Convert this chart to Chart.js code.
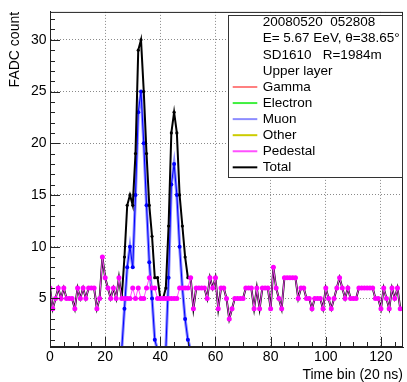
<!DOCTYPE html>
<html>
<head>
<meta charset="utf-8">
<script src="https://cdn.jsdelivr.net/npm/chart.js@4.4.1/dist/chart.umd.min.js"></script>
<style>
  html, body { margin: 0; padding: 0; background: #fff; }
  #wrap { width: 407px; height: 382px; }
</style>
</head>
<body>
<div id="wrap"><canvas id="fadc"></canvas></div>
<script>
// FADC trace of one SD station, upper layer, split by particle type
const timeBin = Array.from({ length: 128 }, (_, i) => i);
const xTicks = [0, 20, 40, 60, 80, 100, 120];
const yTicks = [5, 10, 15, 20, 25, 30];
const eventInfo = ['20080520  052808', 'E= 5.67 EeV, \u03b8=38.65\u00b0', 'SD1610   R=1984m', 'Upper layer'];

const gamma = [
  0, 0, 0, 0, 0, 0, 0, 0, 0, 0, 0, 0, 0, 0, 0, 0, 0, 0, 0, 0, 0, 0, 0, 0, 0, 0, 0, 0, 0, 0, 0, 0,
  0, 0, 0, 0, 0, 0, 0, 0, 0, 0, 0, 0, 0, 0, 0, 0, 0, 0, 0, 0, 0, 0, 0, 0, 0, 0, 0, 0, 0, 0, 0, 0,
  0, 0, 0, 0, 0, 0, 0, 0, 0, 0, 0, 0, 0, 0, 0, 0, 0, 0, 0, 0, 0, 0, 0, 0, 0, 0, 0, 0, 0, 0, 0, 0,
  0, 0, 0, 0, 0, 0, 0, 0, 0, 0, 0, 0, 0, 0, 0, 0, 0, 0, 0, 0, 0, 0, 0, 0, 0, 0, 0, 0, 0, 0, 0, 0
];
const electron = [
  0, 0, 0, 0, 0, 0, 0, 0, 0, 0, 0, 0, 0, 0, 0, 0, 0, 0, 0, 0, 0, 0, 0, 0, 0, 0, 0, 0, 0, 0, 0, 0,
  0, 0, 0, 0, 0, 0, 0, 0, 0, 0, 0, 0, 0, 0, 0, 0, 0, 0, 0, 0, 0, 0, 0, 0, 0, 0, 0, 0, 0, 0, 0, 0,
  0, 0, 0, 0, 0, 0, 0, 0, 0, 0, 0, 0, 0, 0, 0, 0, 0, 0, 0, 0, 0, 0, 0, 0, 0, 0, 0, 0, 0, 0, 0, 0,
  0, 0, 0, 0, 0, 0, 0, 0, 0, 0, 0, 0, 0, 0, 0, 0, 0, 0, 0, 0, 0, 0, 0, 0, 0, 0, 0, 0, 0, 0, 0, 0
];
const muon = [
  0, 0, 0, 0, 0, 0, 0, 0, 0, 0, 0, 0, 0, 0, 0, 0, 0, 0, 0, 0, 0, 0, 0, 0, 0, 0, 0, 4, 8, 10, 8, 15,
  23, 25, 20, 14, 8.5, 5, 1, 0, 0, 0, 0, 7, 16, 18, 15, 10, 6, 3, 1, 0, 0, 0, 0, 0, 0, 0, 0, 0, 0, 0, 0, 0,
  0, 0, 0, 0, 0, 0, 0, 0, 0, 0, 0, 0, 0, 0, 0, 0, 0, 0, 0, 0, 0, 0, 0, 0, 0, 0, 0, 0, 0, 0, 0, 0,
  0, 0, 0, 0, 0, 0, 0, 0, 0, 0, 0, 0, 0, 0, 0, 0, 0, 0, 0, 0, 0, 0, 0, 0, 0, 0, 0, 0, 0, 0, 0, 0
];
const other = [
  0, 0, 0, 0, 0, 0, 0, 0, 0, 0, 0, 0, 0, 0, 0, 0, 0, 0, 0, 0, 0, 0, 0, 0, 0, 0, 0, 0, 0, 0, 0, 0,
  0, 0, 0, 0, 0, 0, 0, 0, 0, 0, 0, 0, 0, 0, 0, 0, 0, 0, 0, 0, 0, 0, 0, 0, 0, 0, 0, 0, 0, 0, 0, 0,
  0, 0, 0, 0, 0, 0, 0, 0, 0, 0, 0, 0, 0, 0, 0, 0, 0, 0, 0, 0, 0, 0, 0, 0, 0, 0, 0, 0, 0, 0, 0, 0,
  0, 0, 0, 0, 0, 0, 0, 0, 0, 0, 0, 0, 0, 0, 0, 0, 0, 0, 0, 0, 0, 0, 0, 0, 0, 0, 0, 0, 0, 0, 0, 0
];
const pedestal = [
  6, 4, 5, 6, 5, 6, 5, 5, 5, 4, 6, 5, 6, 5, 6, 6, 6, 4, 5, 9, 7, 6, 5, 6, 5, 7, 5, 5, 5, 5, 6, 5,
  6, 5, 5, 6, 7, 6, 6, 5, 5, 5, 5, 5, 5, 5, 5, 6, 6, 6, 6, 7, 4, 6, 6, 6, 6, 5, 7, 6, 7, 4, 6, 6,
  5, 3, 4, 5, 5, 5, 5, 6, 6, 6, 4, 6, 4, 6, 6, 6, 4, 8, 6, 5, 4, 7, 7, 7, 7, 7, 5, 6, 6, 5, 5, 4,
  5, 5, 5, 4, 6, 5, 4, 5, 6, 7, 6, 5, 6, 5, 5, 5, 6, 6, 6, 6, 6, 6, 5, 5, 4, 6, 5, 4, 6, 5, 6, 4
];
const total = [
  6, 4, 5, 6, 5, 6, 5, 5, 5, 4, 6, 5, 6, 5, 6, 6, 6, 4, 5, 9, 7, 6, 5, 6, 5, 7, 5, 9, 14, 15, 14, 19,
  29, 30, 25, 19, 14, 11, 7, 7, 5, 5, 6, 12, 21, 23, 21, 15, 12, 9, 7, 7, 4, 6, 6, 6, 6, 5, 7, 6, 7, 4, 6, 6,
  5, 3, 4, 5, 5, 5, 5, 6, 6, 6, 4, 6, 4, 6, 6, 6, 4, 8, 6, 5, 4, 7, 7, 7, 7, 7, 5, 6, 6, 5, 5, 4,
  5, 5, 5, 4, 6, 5, 4, 5, 6, 7, 6, 5, 6, 5, 5, 5, 6, 6, 6, 6, 6, 6, 5, 5, 4, 6, 5, 4, 6, 5, 6, 4
];

const FONT = '"Liberation Sans", Arial, Helvetica, sans-serif';
Chart.defaults.font.family = FONT;
Chart.defaults.color = '#000';

function trace(label, data, color, extra) {
  return Object.assign({
    label: label,
    data: data,
    borderColor: color,
    backgroundColor: color,
    borderWidth: 1,
    pointRadius: 0,
    pointBorderWidth: 0,
    tension: 0,
    fill: false
  }, extra);
}

const datasets = [
  trace('Gamma', gamma, '#ff8080', { borderWidth: 2, order: 9 }),
  trace('Electron', electron, '#40f040', { borderWidth: 2, order: 8 }),
  trace('Muon', muon, '#8c8cff', { borderWidth: 3, order: 7 }),
  trace('', muon, '#0000ff', { borderWidth: 1, pointRadius: 2, order: 6 }),
  trace('Other', other, '#cccc00', { borderWidth: 2, order: 5 }),
  trace('Total', total, '#000000', { borderWidth: 2, pointRadius: 1.6, order: 4 }),
  trace('Pedestal', pedestal, '#ff50ff', { borderWidth: 1, pointRadius: 2.5, pointBackgroundColor: '#ff00ff', order: 3 })
];
const legendOrder = ['Gamma', 'Electron', 'Muon', 'Other', 'Pedestal', 'Total'];

// ROOT-like frame: inward ticks, closed box and the info legend on top
const rootFrame = {
  id: 'rootFrame',
  afterDraw(chart) {
    const { ctx, chartArea: a, scales: { x, y } } = chart;
    ctx.save();
    ctx.strokeStyle = '#222';
    ctx.lineWidth = 1;
    ctx.beginPath();
    for (let v = 1; v <= 32; v++) {
      const py = Math.round(y.getPixelForValue(v)) + 0.5;
      const len = v % 5 === 0 ? 10 : 5;
      ctx.moveTo(a.left, py);
      ctx.lineTo(a.left + len, py);
    }
    for (let v = 5; v < 128; v += 5) {
      const px = Math.round(x.getPixelForValue(v)) + 0.5;
      const len = v % 20 === 0 ? 10 : 5;
      ctx.moveTo(px, a.bottom);
      ctx.lineTo(px, a.bottom - len);
    }
    ctx.stroke();
    ctx.strokeRect(a.left + 0.5, a.top + 0.5, a.right - a.left - 1, a.bottom - a.top - 1);

    // legend box
    const box = { left: 228.5, top: 15.5, right: 402.5, bottom: 177.5 };
    const rowH = 16.07, firstRow = 22.7, textX = 262.7;
    ctx.fillStyle = '#fff';
    ctx.fillRect(box.left, box.top, box.right - box.left, box.bottom - box.top);
    ctx.strokeStyle = '#333';
    ctx.strokeRect(box.left, box.top, box.right - box.left, box.bottom - box.top);
    ctx.font = '13.5px ' + FONT;
    ctx.fillStyle = '#000';
    ctx.textBaseline = 'middle';
    ctx.textAlign = 'left';
    eventInfo.forEach((t, i) => ctx.fillText(t, textX, firstRow + i * rowH));
    legendOrder.forEach((name, i) => {
      const ds = chart.data.datasets.find(d => d.label === name);
      const ry = firstRow + (eventInfo.length + i) * rowH;
      ctx.strokeStyle = ds.borderColor;
      ctx.lineWidth = 2;
      ctx.beginPath();
      ctx.moveTo(232.7, ry);
      ctx.lineTo(257.3, ry);
      ctx.stroke();
      ctx.fillText(name, textX, ry);
    });
    ctx.restore();
  }
};

new Chart(document.getElementById('fadc'), {
  type: 'line',
  data: { labels: timeBin, datasets: datasets },
  options: {
    responsive: true,
    maintainAspectRatio: false,
    animation: false,
    events: [],
    layout: { padding: { top: 6, right: 1, left: 0, bottom: 0 } },
    plugins: { legend: { display: false }, tooltip: { enabled: false } },
    scales: {
      x: {
        type: 'linear',
        min: 0,
        max: 128,
        afterBuildTicks: s => { s.ticks = xTicks.map(v => ({ value: v })); },
        afterFit: s => { s.height = 35; },
        grid: { color: '#8a8a8a', lineWidth: 1, drawTicks: false },
        border: { color: '#222', dash: [1, 2] },
        ticks: { padding: 2, maxRotation: 0, font: { size: 14 }, color: '#000' },
        title: {
          display: true, text: 'Time bin (20 ns)', align: 'end', color: '#000',
          font: { size: 14, lineHeight: 1 }, padding: { top: 0, bottom: 0 }
        }
      },
      y: {
        type: 'linear',
        min: 0.3,
        max: 32.7,
        afterBuildTicks: s => { s.ticks = yTicks.map(v => ({ value: v })); },
        afterFit: s => { s.width = 50; },
        grid: { color: '#8a8a8a', lineWidth: 1, drawTicks: false },
        border: { color: '#222', dash: [1, 2] },
        ticks: { padding: 3.5, font: { size: 14 }, color: '#000' },
        title: {
          display: true, text: 'FADC count', align: 'end', color: '#000',
          font: { size: 14, lineHeight: 1 }, padding: { top: 8.6, bottom: 0 }
        }
      }
    }
  },
  plugins: [rootFrame]
});
</script>
</body>
</html>
